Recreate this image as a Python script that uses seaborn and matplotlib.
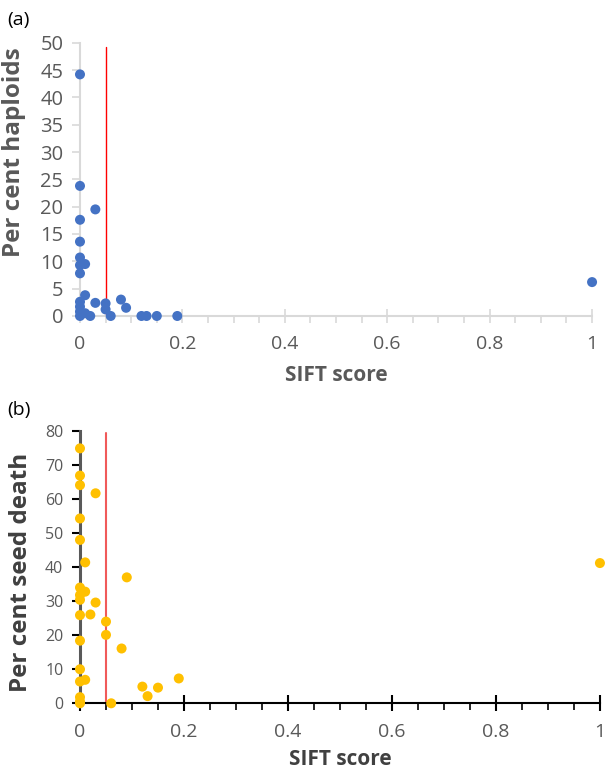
import matplotlib
matplotlib.use("Agg")
import matplotlib.pyplot as plt
import seaborn as sns
import pandas as pd
import numpy as np
from matplotlib.ticker import MultipleLocator, FuncFormatter

# Panel (a): SIFT score vs per cent haploids
sift_a = [0, 0, 0.03, 0, 0, 0, 0, 0.01, 0, 0.01, 0, 0, 0, 0, 0.01, 0.03, 0.05, 0.05,
          0.08, 0.09, 0.06, 0.02, 0.12, 0.13, 0.15, 0.19, 1.0]
haploids = [44.2, 23.8, 19.5, 17.6, 13.6, 10.7, 9.3, 9.5, 7.8, 3.8, 2.6, 1.7, 0.8, 0, 0.5,
            2.4, 2.3, 1.2, 3.0, 1.5, 0, 0, 0, 0, 0, 0, 6.2]

# Panel (b): SIFT score vs per cent seed death
sift_b = [0, 0, 0, 0.03, 0, 0, 0.01, 0.09, 0, 0.01, 0, 0, 0.03, 0, 0.02, 0.05, 0.05, 0,
          0.08, 0, 0, 0.01, 0.19, 0.12, 0.15, 0.13, 0.06, 0, 0, 0, 1.0]
seed_death = [74.9, 66.9, 64.1, 61.7, 54.3, 48.0, 41.4, 37.0, 34.0, 32.8, 31.8, 30.4, 29.6,
              25.9, 26.1, 24.0, 20.1, 18.4, 16.1, 10.0, 6.4, 6.9, 7.3, 4.9, 4.6, 2.1, 0,
              1.8, 0.5, 0, 41.2]

threshold = 0.05

df_a = pd.DataFrame({"SIFT score": sift_a, "Per cent haploids": haploids})
df_b = pd.DataFrame({"SIFT score": sift_b, "Per cent seed death": seed_death})

sns.set_style("white")
plt.rcParams["font.family"] = ["Open Sans", "DejaVu Sans"]

fig = plt.figure(figsize=(6.06, 7.72), dpi=100)
ax_a = fig.add_axes([0.132, 0.5907, 0.845, 0.354])
ax_b = fig.add_axes([0.132, 0.0890, 0.858, 0.3527])

fmt = FuncFormatter(lambda v, p: ("%g" % v))

# ---- Panel (a)
sns.scatterplot(data=df_a, x="SIFT score", y="Per cent haploids", ax=ax_a,
                color="#4472C4", s=52, edgecolor="none", zorder=3, clip_on=False)
ax_a.plot([threshold, threshold], [0, 49.3], color="#FF0000", lw=1.0, zorder=2)
ax_a.set_xlim(0, 1)
ax_a.set_ylim(0, 50)
ax_a.xaxis.set_major_locator(MultipleLocator(0.2))
ax_a.xaxis.set_minor_locator(MultipleLocator(0.05))
ax_a.yaxis.set_major_locator(MultipleLocator(5))
ax_a.xaxis.set_major_formatter(fmt)
for s in ["top", "right"]:
    ax_a.spines[s].set_visible(False)
for s in ["left", "bottom"]:
    ax_a.spines[s].set_color("#D9D9D9")
    ax_a.spines[s].set_linewidth(1.5)
ax_a.tick_params(axis="both", which="both", color="#D9D9D9", labelcolor="#595959")
ax_a.tick_params(axis="x", which="major", direction="inout", length=10, width=1.2, pad=9,
                 labelsize=14, bottom=True)
ax_a.tick_params(axis="x", which="minor", direction="out", length=5, width=1.2, bottom=True)
ax_a.tick_params(axis="y", which="major", direction="out", length=6, width=1.2, pad=6,
                 left=True, labelsize=14.5)
ax_a.set_xlabel("SIFT score", fontsize=15, fontweight="bold", color="#595959", labelpad=8)
ax_a.set_ylabel("Per cent haploids", fontsize=17.5, fontweight="bold", color="#595959")
ax_a.yaxis.set_label_coords(-0.105, 0.60)
fig.text(0.012, 0.986, "(a)", fontsize=14, color="black", va="top", ha="left")

# ---- Panel (b)
sns.scatterplot(data=df_b, x="SIFT score", y="Per cent seed death", ax=ax_b,
                color="#FFC000", s=52, edgecolor="none", zorder=3, clip_on=False)
ax_b.plot([threshold, threshold], [0, 79.3], color="#F05A5A", lw=1.5, zorder=2)
ax_b.set_xlim(0, 1)
ax_b.set_ylim(0, 80)
ax_b.xaxis.set_major_locator(MultipleLocator(0.2))
ax_b.xaxis.set_minor_locator(MultipleLocator(0.05))
ax_b.yaxis.set_major_locator(MultipleLocator(10))
ax_b.xaxis.set_major_formatter(fmt)
for s in ["top", "right"]:
    ax_b.spines[s].set_visible(False)
ax_b.spines["left"].set_color("#595959")
ax_b.spines["left"].set_linewidth(2.2)
ax_b.spines["bottom"].set_color("black")
ax_b.spines["bottom"].set_linewidth(1.5)
ax_b.tick_params(axis="both", which="both", labelcolor="#595959")
ax_b.tick_params(axis="x", which="major", direction="inout", length=12, width=1.5,
                 color="black", pad=8, bottom=True, labelsize=14)
ax_b.tick_params(axis="x", which="minor", direction="out", length=5, width=1.2,
                 color="black", bottom=True)
ax_b.tick_params(axis="y", which="major", direction="out", length=6, width=1.5,
                 color="black", pad=6, left=True, labelsize=11.5)
ax_b.set_xlabel("SIFT score", fontsize=15, fontweight="bold", color="#404040", labelpad=6)
ax_b.set_ylabel("Per cent seed death", fontsize=17.5, fontweight="bold", color="#404040")
ax_b.yaxis.set_label_coords(-0.091, 0.48)
fig.text(0.012, 0.481, "(b)", fontsize=14, color="black", va="top", ha="left")

fig.savefig("out.png", dpi=100)
